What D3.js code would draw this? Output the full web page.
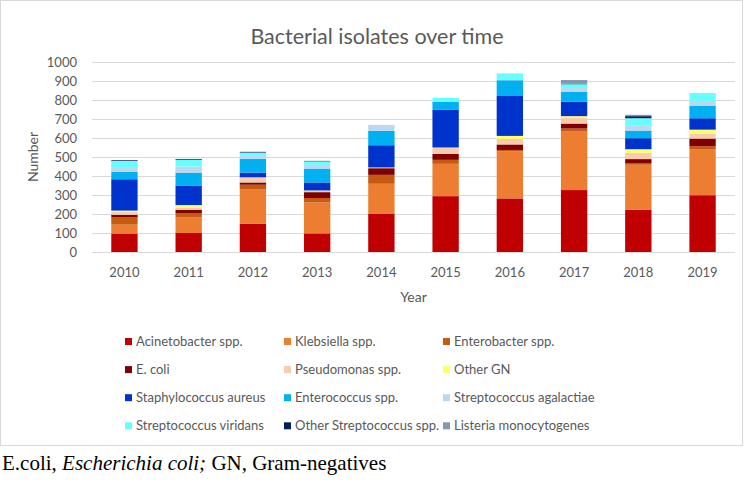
<!DOCTYPE html>
<html>
<head>
<meta charset="utf-8">
<script src="https://cdn.jsdelivr.net/npm/d3@7"></script>
<style>
  body { margin: 0; background: #fff; }
  svg text { font-family: Lato, "Open Sans", sans-serif; }
</style>
</head>
<body>
<div id="chart"></div>
<script>
const width = 754;
const height = 484;
const margin = { top: 62, right: 19, bottom: 232, left: 92 };

const years = ["2010", "2011", "2012", "2013", "2014", "2015", "2016", "2017", "2018", "2019"];
const yTicks = [0, 100, 200, 300, 400, 500, 600, 700, 800, 900, 1000];

const species = [
  "Acinetobacter spp.", "Klebsiella spp.", "Enterobacter spp.",
  "E. coli", "Pseudomonas spp.", "Other GN",
  "Staphylococcus aureus", "Enterococcus spp.", "Streptococcus agalactiae",
  "Streptococcus viridans", "Other Streptococcus spp.", "Listeria monocytogenes"
];

const colors = [
  "#C00000", "#ED7D31", "#C55A11",
  "#800000", "#F8CBAD", "#FFFF66",
  "#0033CC", "#00B0F0", "#BDD7EE",
  "#66FFFF", "#002060", "#8497B0"
];

// counts per year, one array per species (2010..2019)
const acinetobacter = [97, 100, 149, 98, 200, 294, 282, 326, 222, 299];
const klebsiella    = [47, 82, 182, 163, 159, 170, 247, 308, 237, 240];
const enterobacter  = [38, 23, 23, 23, 47, 21, 8, 16, 7, 18];
const ecoli         = [14, 16, 12, 31, 35, 32, 29, 26, 23, 40];
const pseudomonas   = [14, 13, 26, 7, 2, 30, 29, 31, 33, 25];
const otherGN       = [8, 13, 1, 2, 2, 3, 16, 8, 19, 22];
const staphAureus   = [165, 101, 25, 42, 117, 198, 210, 76, 58, 60];
const enterococcus  = [38, 70, 73, 73, 75, 43, 83, 51, 40, 66];
const strepAgal     = [26, 32, 19, 20, 32, 3, 2, 21, 25, 25];
const strepViridans = [32, 35, 13, 17, 0, 17, 34, 20, 40, 42];
const otherStrep    = [4, 4, 3, 2, 0, 0, 0, 2, 11, 0];
const listeria      = [1, 1, 2, 2, 0, 0, 0, 20, 7, 0];

const seriesValues = [
  acinetobacter, klebsiella, enterobacter, ecoli, pseudomonas, otherGN,
  staphAureus, enterococcus, strepAgal, strepViridans, otherStrep, listeria
];

const rows = years.map((yr, i) => {
  const obj = { year: yr };
  species.forEach((s, k) => { obj[s] = seriesValues[k][i]; });
  return obj;
});

const colorScale = d3.scaleOrdinal().domain(species).range(colors);

const svg = d3.select("#chart")
  .append("svg")
  .attr("width", width)
  .attr("height", height);

// chart frame
svg.append("rect")
  .attr("x", 0.5)
  .attr("y", 0.5)
  .attr("width", 742)
  .attr("height", 445)
  .attr("fill", "none")
  .attr("stroke", "#d9d9d9");

const xScale = d3.scaleBand()
  .domain(years)
  .range([margin.left, width - margin.right])
  .paddingInner(0.59)
  .paddingOuter(0.3);

const yScale = d3.scaleLinear()
  .domain([0, 1000])
  .range([252, margin.top]);

// gridlines
svg.append("g")
  .selectAll("line")
  .data(yTicks)
  .enter()
  .append("line")
  .attr("x1", margin.left)
  .attr("x2", width - margin.right)
  .attr("y1", d => Math.round(yScale(d)) + 0.5)
  .attr("y2", d => Math.round(yScale(d)) + 0.5)
  .attr("stroke", "#d9d9d9")
  .attr("stroke-width", 1);

const stackedData = d3.stack().keys(species)(rows);

svg.selectAll("g.layer")
  .data(stackedData)
  .enter()
  .append("g")
  .attr("class", "layer")
  .attr("fill", d => colorScale(d.key))
  .selectAll("rect")
  .data(d => d)
  .enter()
  .append("rect")
  .attr("x", d => xScale(d.data.year))
  .attr("y", d => yScale(d[1]))
  .attr("height", d => yScale(d[0]) - yScale(d[1]))
  .attr("width", xScale.bandwidth());

// y axis labels
const yAxis = svg.append("g")
  .attr("transform", `translate(${margin.left - 12},0)`)
  .call(d3.axisLeft(yScale).tickValues(yTicks).tickSize(0).tickFormat(d3.format("d")));
yAxis.select(".domain").remove();
yAxis.selectAll("text")
  .style("font-family", "Lato, sans-serif")
  .style("font-size", "13px")
  .attr("fill", "#595959");

// x axis labels
const xAxis = svg.append("g")
  .attr("transform", `translate(0,${yScale(0) + 13})`)
  .call(d3.axisBottom(xScale).tickSize(0));
xAxis.select(".domain").remove();
xAxis.selectAll("text")
  .style("font-family", "Lato, sans-serif")
  .style("font-size", "13px")
  .attr("fill", "#595959");

svg.append("text")
  .attr("x", 377)
  .attr("y", 44)
  .attr("text-anchor", "middle")
  .style("font-size", "21.5px")
  .attr("fill", "#595959")
  .text("Bacterial isolates over time");

svg.append("text")
  .attr("x", (margin.left + width - margin.right) / 2)
  .attr("y", 302)
  .attr("text-anchor", "middle")
  .style("font-size", "14px")
  .attr("fill", "#595959")
  .text("Year");

svg.append("text")
  .attr("transform", `translate(38, ${yScale(500)}) rotate(-90)`)
  .attr("text-anchor", "middle")
  .style("font-size", "14px")
  .attr("fill", "#595959")
  .text("Number");

// legend
const legendX = [125, 284, 443];
const legend = svg.append("g");
species.forEach((s, i) => {
  const row = legend.append("g")
    .attr("transform", `translate(${legendX[i % 3]}, ${338 + Math.floor(i / 3) * 28.1})`);
  row.append("rect")
    .attr("width", 7)
    .attr("height", 7)
    .attr("fill", colorScale(s));
  row.append("text")
    .attr("x", 11)
    .attr("y", 8)
    .style("font-size", "13px")
    .attr("fill", "#595959")
    .text(s);
});

// footnote
const note = svg.append("text")
  .attr("x", 2)
  .attr("y", 470)
  .style("font-family", "'Liberation Serif', 'Times New Roman', serif")
  .style("font-size", "21px")
  .attr("fill", "#000");
note.append("tspan").style("font-family", "'Liberation Serif', serif").text("E.coli, ");
note.append("tspan").style("font-family", "'Liberation Serif', serif").style("font-style", "italic").text("Escherichia coli;");
note.append("tspan").style("font-family", "'Liberation Serif', serif").text(" GN, Gram-negatives");
</script>
</body>
</html>
